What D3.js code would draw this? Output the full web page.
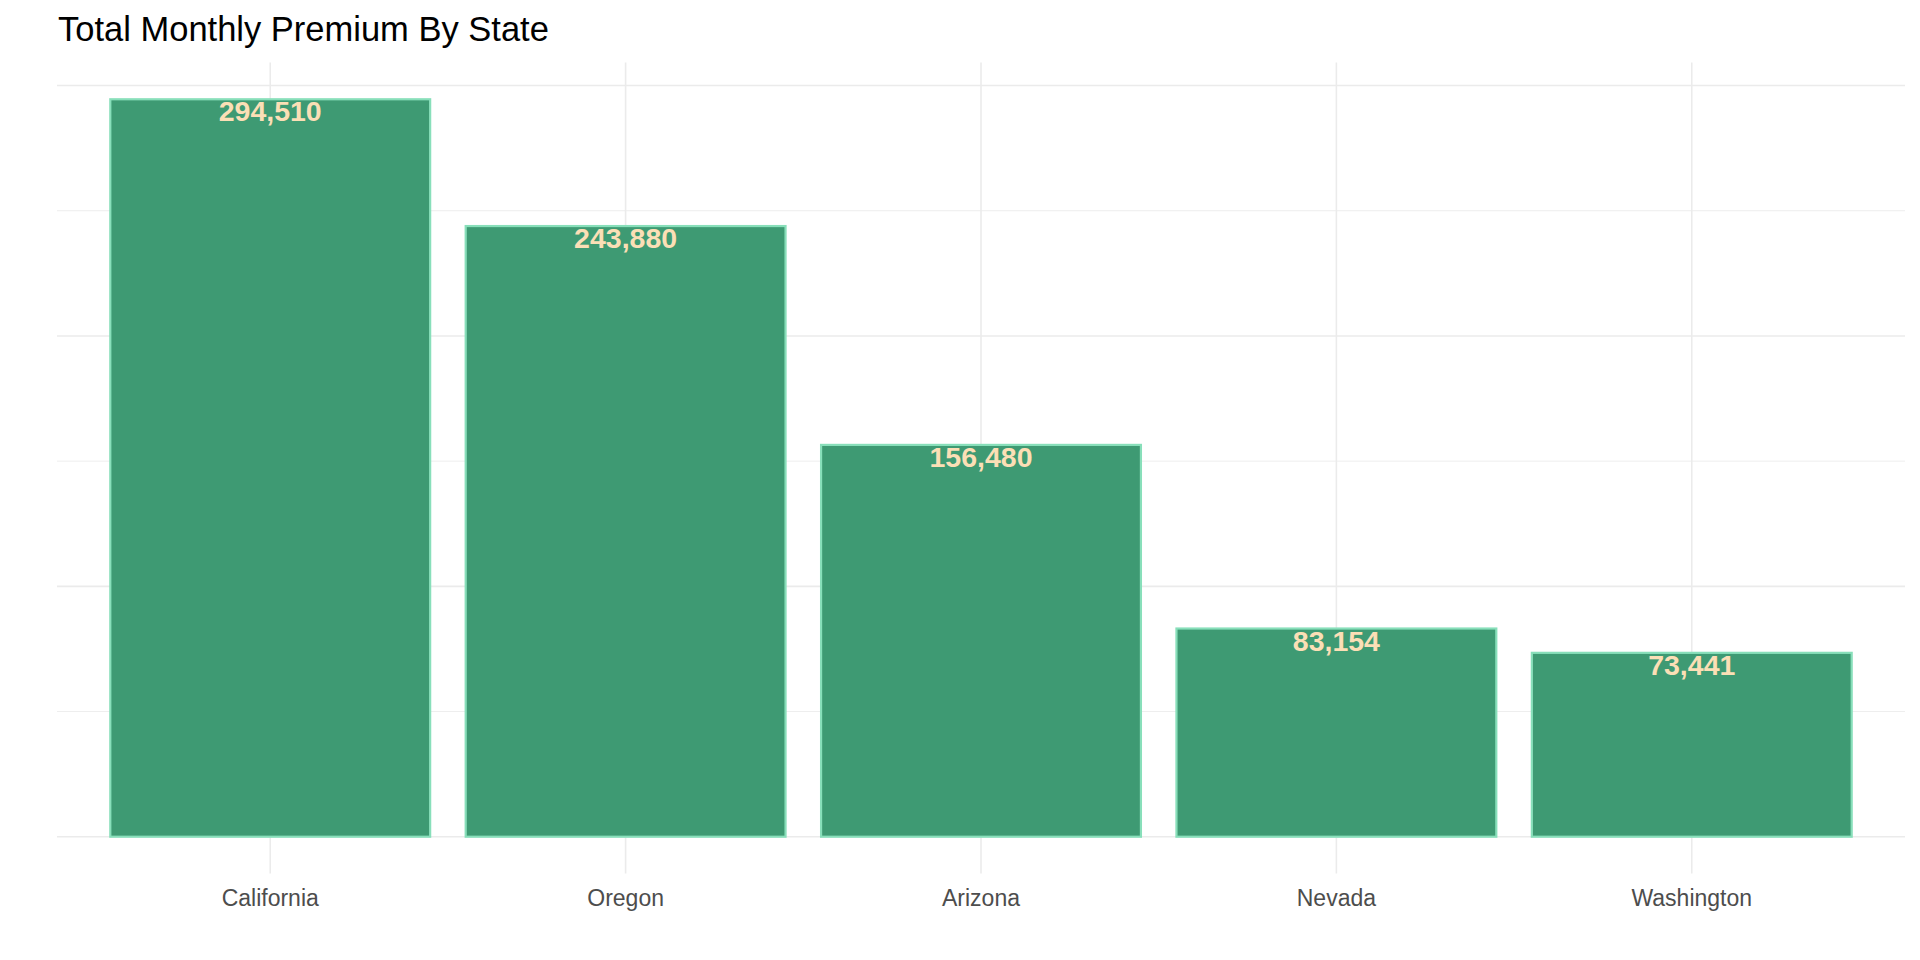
<!DOCTYPE html>
<html>
<head>
<meta charset="utf-8">
<script src="https://cdn.jsdelivr.net/npm/d3@7"></script>
<style>
  body { margin: 0; background: #fff; }
  svg { display: block; font-family: "Liberation Sans", Arial, sans-serif; }
</style>
</head>
<body>
<div id="chart"></div>
<script>
var states = ["California", "Oregon", "Arizona", "Nevada", "Washington"];
var premiums = [294510, 243880, 156480, 83154, 73441];
var majorTicks = [0, 100000, 200000, 300000];
var minorTicks = [50000, 150000, 250000];

var w = 1920,
    h = 960;
var panelLeft = 57, panelRight = 1905, panelTop = 62.4, panelBottom = 873.6;

var svg = d3.select("#chart")
	.append("svg")
	.attr("width", w)
	.attr("height", h);

var data = states.map(function(s, i) { return {name: s, value: premiums[i]}; });

var maxVal = d3.max(premiums);
var y = d3.scaleLinear()
	.domain([-maxVal * 0.05, maxVal * 1.05])
	.range([panelBottom, panelTop]);

var x = d3.scaleBand()
	.domain(states)
	.range([panelLeft, panelRight])
	.paddingInner(0.1)
	.paddingOuter(0.15);

// grid
svg.selectAll(".minor")
	.data(minorTicks)
	.enter()
	.append("line")
	.attr("x1", panelLeft).attr("x2", panelRight)
	.attr("y1", function(d) { return y(d); })
	.attr("y2", function(d) { return y(d); })
	.attr("stroke", "#EEEEEE")
	.attr("stroke-width", 1);

svg.selectAll(".major")
	.data(majorTicks)
	.enter()
	.append("line")
	.attr("x1", panelLeft).attr("x2", panelRight)
	.attr("y1", function(d) { return y(d); })
	.attr("y2", function(d) { return y(d); })
	.attr("stroke", "#EBEBEB")
	.attr("stroke-width", 1.6);

svg.selectAll(".vgrid")
	.data(states)
	.enter()
	.append("line")
	.attr("x1", function(d) { return x(d) + x.bandwidth() / 2; })
	.attr("x2", function(d) { return x(d) + x.bandwidth() / 2; })
	.attr("y1", panelTop).attr("y2", panelBottom)
	.attr("stroke", "#EBEBEB")
	.attr("stroke-width", 1.6);

// bars
svg.selectAll(".bar")
	.data(data)
	.enter()
	.append("rect")
	.attr("class", "bar")
	.attr("x", function(d) { return x(d.name); })
	.attr("y", function(d) { return y(d.value); })
	.attr("width", x.bandwidth())
	.attr("height", function(d) { return y(0) - y(d.value); })
	.attr("fill", "#3E9A73")
	.attr("stroke", "#88DFBA")
	.attr("stroke-width", 2.2);

// value labels
svg.selectAll(".label")
	.data(data)
	.enter()
	.append("text")
	.attr("class", "label")
	.attr("x", function(d) { return x(d.name) + x.bandwidth() / 2; })
	.attr("y", function(d) { return y(d.value) + 22; })
	.attr("text-anchor", "middle")
	.attr("font-size", "28.5px")
	.style("font-weight", "bold")
	.attr("fill", "#FBDFB6")
	.text(function(d) { return d3.format(",")(d.value); });

// x axis labels
svg.selectAll(".xlab")
	.data(states)
	.enter()
	.append("text")
	.attr("x", function(d) { return x(d) + x.bandwidth() / 2; })
	.attr("y", 906)
	.attr("text-anchor", "middle")
	.attr("font-size", "23px")
	.attr("fill", "#4D4D4D")
	.text(function(d) { return d; });

// title
svg.append("text")
	.attr("x", 58)
	.attr("y", 41)
	.attr("font-size", "34.5px")
	.attr("fill", "#000")
	.text("Total Monthly Premium By State");
</script>
</body>
</html>
